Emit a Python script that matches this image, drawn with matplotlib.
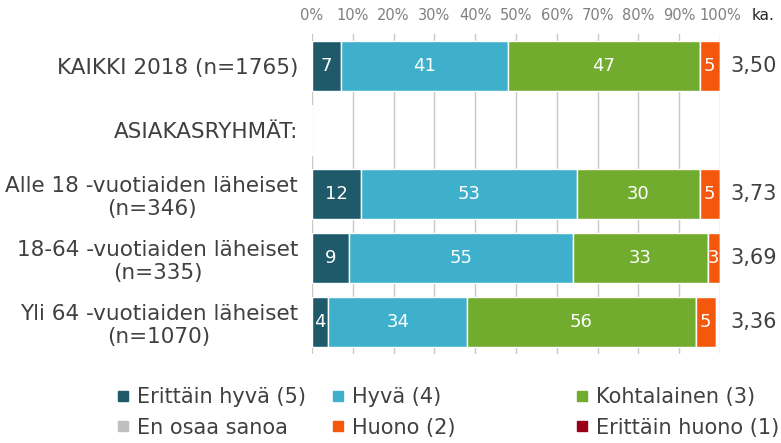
import matplotlib.pyplot as plt
from matplotlib.lines import Line2D

# data
categories = [
    "KAIKKI 2018 (n=1765)",
    "ASIAKASRYHMÄT:",
    "Alle 18 -vuotiaiden läheiset\n(n=346)",
    "18-64 -vuotiaiden läheiset\n(n=335)",
    "Yli 64 -vuotiaiden läheiset\n(n=1070)",
]
series_names = [
    "Erittäin hyvä (5)",
    "Hyvä (4)",
    "Kohtalainen (3)",
    "En osaa sanoa",
    "Huono (2)",
    "Erittäin huono (1)",
]
erittain_hyva = [7, 0, 12, 9, 4]
hyva = [41, 0, 53, 55, 34]
kohtalainen = [47, 0, 30, 33, 56]
en_osaa_sanoa = [0, 0, 0, 0, 0]
huono = [5, 0, 5, 3, 5]
erittain_huono = [0, 0, 0, 0, 0]
means = [3.50, None, 3.73, 3.69, 3.36]
x_ticks = [0, 10, 20, 30, 40, 50, 60, 70, 80, 90, 100]

colors = ["#1f5a6a", "#3eb0cc", "#72ac2f", "#bfbfbf", "#f4580c", "#9b0016"]
text_color = "#404040"

fig = plt.figure(figsize=(7.81, 4.43), dpi=100)
ax = fig.add_axes([0.3995, 0.2009, 0.5224, 0.7224])

series = [erittain_hyva, hyva, kohtalainen, en_osaa_sanoa, huono, erittain_huono]
rows = list(range(len(categories)))
left = [0] * len(categories)
for name, values, color in zip(series_names, series, colors):
    ax.barh(rows, values, left=left, height=0.78, color=color,
            edgecolor="white", linewidth=1, zorder=2, label=name)
    for i, v in enumerate(values):
        if v:
            ax.text(left[i] + v / 2, i, f"{v}", ha="center", va="center",
                    color="white", fontsize=13, zorder=3)
    left = [l + v for l, v in zip(left, values)]

for i, m in enumerate(means):
    if m is not None:
        ax.text(102.5, i, f"{m:.2f}".replace(".", ","), ha="left", va="center",
                fontsize=15, color=text_color, clip_on=False)

ax.set_xlim(0, 100)
ax.set_ylim(len(categories) - 0.5, -0.5)
ax.xaxis.tick_top()
ax.set_xticks(x_ticks)
ax.set_xticklabels([f"{t}%" for t in x_ticks])
ax.tick_params(axis="x", length=0, pad=8, labelsize=10.5, labelcolor="#808080")
ax.set_yticks(rows)
ax.set_yticklabels(categories)
ax.tick_params(axis="y", length=0, pad=10, labelsize=15.5, labelcolor=text_color)
for t in ax.get_yticklabels():
    t.set_multialignment("center")
ax.grid(axis="x", color="#c8c8c8", linewidth=1, zorder=0)
ax.grid(axis="y", visible=False)
ax.set_axisbelow(True)
for s in ax.spines.values():
    s.set_visible(False)

fig.text(752 / 781, 1 - 15 / 443, "ka.", ha="left", va="center",
         fontsize=11, color="#262626")

# legend: three columns placed separately, two entries each
handles = [Line2D([], [], marker="s", linestyle="none", markersize=7,
                  markerfacecolor=c, markeredgecolor=c) for c in colors]
col_x = [116 / 781, 331 / 781, 575 / 781]
for k, x in enumerate(col_x):
    leg = fig.legend([handles[k], handles[k + 3]],
                     [series_names[k], series_names[k + 3]],
                     loc="center left", bbox_to_anchor=(x, 1 - 412.5 / 443),
                     frameon=False, fontsize=15, handlelength=0.7,
                     handletextpad=0.3, labelspacing=0.5, borderpad=0,
                     borderaxespad=0)
    for t in leg.get_texts():
        t.set_color(text_color)

fig.savefig("out.png", dpi=100)
